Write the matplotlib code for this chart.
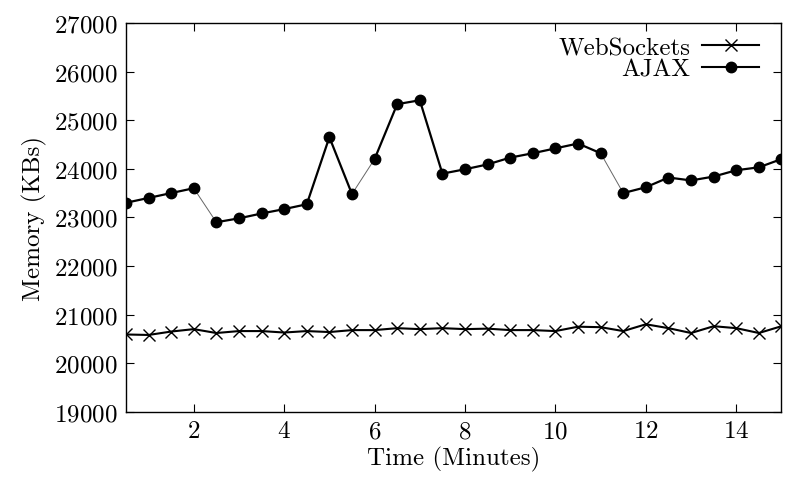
import matplotlib
matplotlib.use("Agg")
import matplotlib.pyplot as plt
import numpy as np

plt.rcParams['font.family'] = 'serif'
plt.rcParams['font.serif'] = ['cmr10', 'DejaVu Serif']
plt.rcParams['axes.formatter.use_mathtext'] = True

time_min = [0.5, 1, 1.5, 2, 2.5, 3, 3.5, 4, 4.5, 5, 5.5, 6, 6.5, 7, 7.5,
            8, 8.5, 9, 9.5, 10, 10.5, 11, 11.5, 12, 12.5, 13, 13.5, 14, 14.5, 15]
websockets_kb = [20590, 20580, 20650, 20700, 20620, 20660, 20660, 20630, 20660, 20640,
                 20680, 20680, 20720, 20700, 20720, 20700, 20710, 20680, 20680, 20660,
                 20750, 20740, 20660, 20800, 20720, 20620, 20760, 20720, 20620, 20760]
ajax_kb = [23300, 23400, 23500, 23600, 22900, 22980, 23080, 23170, 23270, 24650,
           23480, 24200, 25330, 25410, 23900, 23990, 24090, 24230, 24320, 24420,
           24520, 24320, 23500, 23620, 23820, 23760, 23840, 23970, 24030, 24200]
xticks = [2, 4, 6, 8, 10, 12, 14]
yticks = [19000, 20000, 21000, 22000, 23000, 24000, 25000, 26000, 27000]
thin_ajax_segments = [3, 10, 21]  # segments starting at these indices drawn thin

fig = plt.figure(figsize=(7.87, 4.85), dpi=100)
ax = fig.add_axes([0.160, 0.149, 0.833, 0.8015])

FS = 18

# WebSockets
ax.plot(time_min, websockets_kb, color='black', lw=1.5, marker='x', ms=9, mew=1.0,
        label='WebSockets')

# AJAX: segments (some thin grey as in the original rendering)
x = np.array(time_min)
y = np.array(ajax_kb)
for i in range(len(x) - 1):
    if i in thin_ajax_segments:
        ax.plot(x[i:i+2], y[i:i+2], color='#666666', lw=0.7)
    else:
        ax.plot(x[i:i+2], y[i:i+2], color='black', lw=1.6)
ax.plot(x, y, linestyle='none', marker='o', ms=7.5, color='black')
ax.plot([], [], color='black', lw=1.5, marker='o', ms=7.5, label='AJAX')

ax.set_xlim(0.5, 15)
ax.set_ylim(19000, 27000)
ax.set_xticks(xticks)
ax.set_yticks(yticks)
ax.tick_params(direction='in', top=True, right=True, length=6, width=0.8,
               labelsize=FS, pad=6)
for s in ax.spines.values():
    s.set_linewidth(1.0)

ax.set_xlabel('Time (Minutes)', fontsize=FS, labelpad=3)
ax.set_ylabel('Memory (KBs)', fontsize=FS, labelpad=5)

handles, labels = ax.get_legend_handles_labels()
leg = ax.legend(handles, labels, loc='upper right', frameon=False, markerfirst=False,
                fontsize=FS, handlelength=2.3, handletextpad=0.45, labelspacing=-0.05,
                borderaxespad=0.3, bbox_to_anchor=(0.993, 1.01))

fig.savefig('out.png', dpi=100)
